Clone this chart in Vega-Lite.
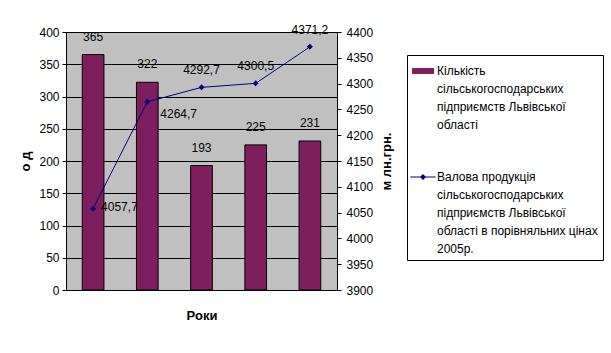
{
  "$schema": "https://vega.github.io/schema/vega-lite/v6.json",
  "width": 271,
  "height": 258,
  "autosize": {"type": "none"},
  "padding": {"left": 66, "top": 32, "right": 274, "bottom": 63},
  "background": "white",
  "config": {
    "font": "Liberation Sans",
    "locale": {"number": {"decimal": ",", "thousands": " ", "grouping": [3], "currency": ["", ""]}},
    "view": {"fill": "#C0C0C0", "stroke": "black", "strokeWidth": 1},
    "style": {"guide-label": {"lineHeight": 18}},
    "axis": {
      "labelFont": "Liberation Sans",
      "labelFontSize": 12,
      "labelColor": "black",
      "domainColor": "black",
      "tickColor": "black",
      "titleColor": "black",
      "titleFont": "Liberation Sans",
      "titleFontWeight": "bold",
      "titleFontSize": 13
    },
    "text": {"font": "Liberation Sans", "fontSize": 12, "color": "black"}
  },
  "data": {
    "values": [
      {"year": "2004", "farms": 365, "output": 4057.7},
      {"year": "2005", "farms": 322, "output": 4264.7},
      {"year": "2006", "farms": 193, "output": 4292.7},
      {"year": "2007", "farms": 225, "output": 4300.5},
      {"year": "2008", "farms": 231, "output": 4371.2}
    ]
  },
  "encoding": {
    "x": {
      "field": "year",
      "type": "nominal",
      "scale": {"paddingInner": 0.6, "paddingOuter": 0.3},
      "axis": {"labels": false, "ticks": false, "domain": false, "title": "Роки", "titlePadding": 19}
    }
  },
  "layer": [
    {
      "encoding": {
        "y": {
          "field": "farms",
          "type": "quantitative",
          "scale": {"domain": [0, 400], "nice": false},
          "axis": {
            "orient": "left",
            "values": [0, 50, 100, 150, 200, 250, 300, 350, 400],
            "grid": true,
            "gridColor": "black",
            "gridOpacity": 1,
            "tickSize": 4,
            "labelPadding": 3,
            "title": "о д",
            "titlePadding": 6
          }
        }
      },
      "layer": [
        {
          "mark": {"type": "bar", "stroke": "black", "strokeWidth": 1, "color": "#7E1E5E"},
          "encoding": {}
        },
        {
          "mark": {"type": "text", "dy": -18, "baseline": "middle", "align": "center"},
          "encoding": {"text": {"field": "farms", "type": "quantitative"}}
        }
      ]
    },
    {
      "encoding": {
        "y": {
          "field": "output",
          "type": "quantitative",
          "scale": {"domain": [3900, 4400], "nice": false, "zero": false},
          "axis": {
            "orient": "right",
            "values": [3900, 3950, 4000, 4050, 4100, 4150, 4200, 4250, 4300, 4350, 4400],
            "format": "d",
            "grid": false,
            "tickSize": 4,
            "labelPadding": 5,
            "title": "м лн.грн.",
            "titleAngle": 270,
            "titleBaseline": "top",
            "titlePadding": 8
          }
        }
      },
      "layer": [
        {
          "mark": {"type": "line", "strokeWidth": 1, "color": "#000080", "point": {"shape": "diamond", "size": 36, "filled": true, "color": "#000080"}},
          "encoding": {}
        },
        {
          "mark": {"type": "point", "filled": true, "opacity": 0},
          "encoding": {
            "color": {
              "datum": "A",
              "scale": {"domain": ["A", "B"], "range": ["#7E1E5E", "#000080"]},
              "legend": {
                "orient": "none",
                "legendX": 341,
                "legendY": 23,
                "title": null,
                "direction": "vertical",
                "labelExpr": "datum.value == 'A' ? ['Кількість','сільськогосподарських','підприємств Львівської','області'] : ['Валова продукція','сільськогосподарських','підприємств Львівської','області в порівняльних цінах','2005р.']",
                "labelFont": "Liberation Sans",
                "labelFontSize": 12,
                "labelColor": "black",
                "labelLimit": 220,
                "labelOffset": 3,
                "symbolSize": 484,
                "symbolOpacity": 1,
                "symbolStrokeWidth": 0,
                "rowPadding": 35,
                "padding": 5,
                "strokeColor": "black",
                "fillColor": "white"
              }
            },
            "shape": {
              "datum": "A",
              "scale": {"domain": ["A", "B"], "range": ["M-1,-0.27H1V0.27H-1Z", "M-1.15,-0.045H1.15V0.045H-1.15ZM-0.28,0L0,-0.28L0.28,0L0,0.28Z"]},
              "legend": {
                "orient": "none",
                "legendX": 341,
                "legendY": 23,
                "title": null,
                "direction": "vertical",
                "labelExpr": "datum.value == 'A' ? ['Кількість','сільськогосподарських','підприємств Львівської','області'] : ['Валова продукція','сільськогосподарських','підприємств Львівської','області в порівняльних цінах','2005р.']",
                "labelFont": "Liberation Sans",
                "labelFontSize": 12,
                "labelColor": "black",
                "labelLimit": 220,
                "labelOffset": 3,
                "symbolSize": 484,
                "symbolOpacity": 1,
                "symbolStrokeWidth": 0,
                "rowPadding": 35,
                "padding": 5,
                "strokeColor": "black",
                "fillColor": "white"
              }
            }
          }
        },
        {
          "transform": [{"filter": "datum.year == '2004'"}],
          "mark": {"type": "text", "align": "left", "baseline": "middle", "dx": 8, "dy": -2},
          "encoding": {"text": {"field": "output", "type": "quantitative", "format": ".1f"}}
        },
        {
          "transform": [{"filter": "datum.year == '2005'"}],
          "mark": {"type": "text", "align": "left", "baseline": "middle", "dx": 13, "dy": 12},
          "encoding": {"text": {"field": "output", "type": "quantitative", "format": ".1f"}}
        },
        {
          "transform": [{"filter": "datum.year > '2005'"}],
          "mark": {"type": "text", "align": "center", "baseline": "middle", "dx": 0, "dy": -17},
          "encoding": {"text": {"field": "output", "type": "quantitative", "format": ".1f"}}
        }
      ]
    }
  ],
  "resolve": {"scale": {"y": "independent"}}
}
